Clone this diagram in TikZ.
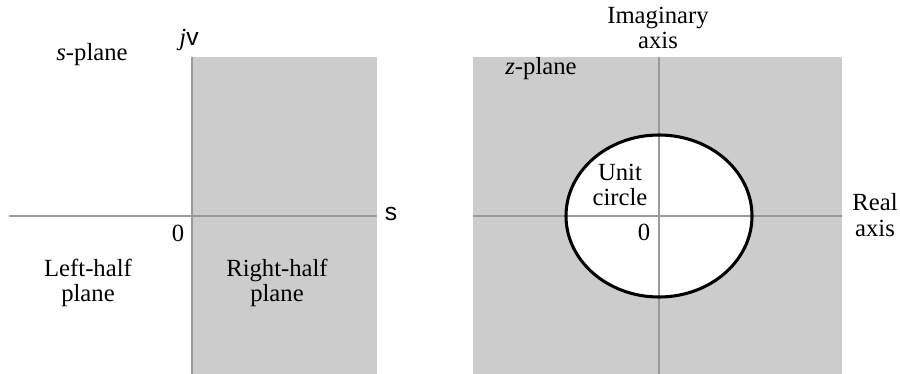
\documentclass[tikz,border=0pt]{standalone}
\usepackage{fontspec}
\setmainfont{Liberation Serif}
\newfontfamily\sansf{Liberation Sans}
\begin{document}
\begin{tikzpicture}[x=0.75pt,y=-0.75pt,
  lbl/.style={font=\fontsize{18.5}{19}\selectfont, inner sep=0pt, align=center},
  axisline/.style={draw=axisgray, line width=2pt},
  shade/.style={fill=planegray, draw=none}]
\definecolor{planegray}{HTML}{CCCCCC}
\definecolor{axisgray}{HTML}{9A9A9A}
\useasboundingbox (0,0) rectangle (900,374);
\fill[white] (0,0) rectangle (900,374);
% left s-plane
\fill[shade] (192,57) rectangle (377,374);
\coordinate (sl) at (9,216);
\coordinate (sr) at (377,216);
\coordinate (st) at (192,57);
\coordinate (sb) at (192,374);
\draw[axisline] (sl) -- (sr);
\draw[axisline] (st) -- (sb);
\node[lbl] (jv) at (189,40) {\textit{j}{\sansf v}};
\node[lbl] (splane) at (92,55) {\textit{s}-plane};
\node[lbl] (sig) at (391,214) {\sansf s};
\node[lbl] (zero1) at (178,233) {0};
\node[lbl] (lhp) at (88,283) {Left-half\\plane};
\node[lbl] (rhp) at (277,283) {Right-half\\plane};
% right z-plane
\fill[shade] (473,57) rectangle (842,374);
\fill[white] (659,216) ellipse [x radius=93, y radius=81];
\coordinate (zl) at (473,216);
\coordinate (zr) at (842,216);
\coordinate (zt) at (659,57);
\coordinate (zb) at (659,374);
\draw[axisline] (zl) -- (zr);
\draw[axisline] (zt) -- (zb);
\draw[black, line width=2.3pt] (659,216) ellipse [x radius=93, y radius=81];
\node[lbl] (imag) at (658,28) {Imaginary\\axis};
\node[lbl] (zplane) at (541,69) {\textit{z}-plane};
\node[lbl] (unit) at (620,185) {Unit\\circle};
\node[lbl] (zero2) at (644,232) {0};
\node[lbl] (real) at (875,215) {Real\\axis};
\end{tikzpicture}
\end{document}
